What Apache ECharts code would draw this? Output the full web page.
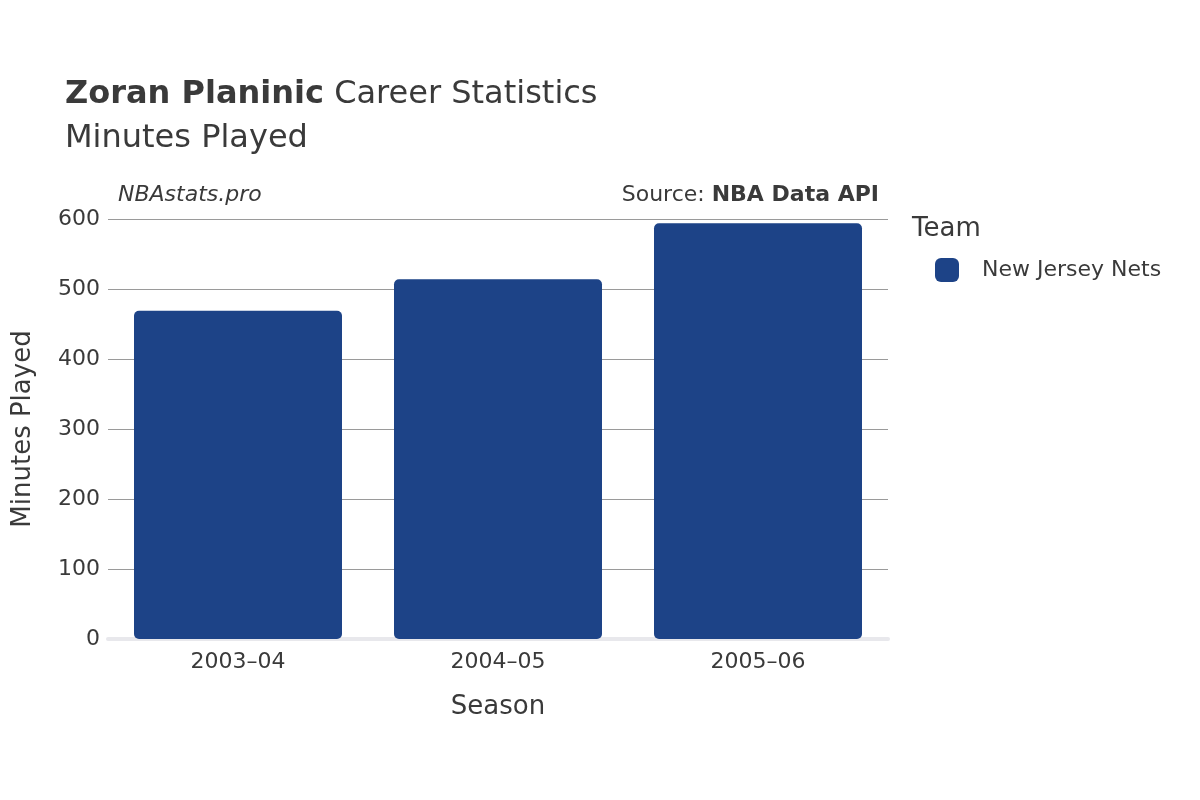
<!DOCTYPE html>
<html>
<head>
<meta charset="UTF-8">
<script src="https://cdn.jsdelivr.net/npm/echarts@6/dist/echarts.min.js"></script>
<style>html,body{margin:0}#c{width:1200px;height:800px}</style>
</head>
<body>
<div id="c"></div>
<script>
var seasons = ['2003–04', '2004–05', '2005–06'];
var minutes = [469, 514, 594];
var teamName = 'New Jersey Nets';

var chart = echarts.init(document.getElementById('c'));
var font = 'DejaVu Sans';
chart.setOption({
    textStyle: { fontFamily: font },
    title: [{
        left: 60, top: 68,
        text: '{b|Zoran Planinic} Career Statistics\nMinutes Played',
        textStyle: {
            fontSize: 32, fontWeight: 'normal', color: '#3a3a3a', lineHeight: 44, fontFamily: font,
            rich: { b: { fontSize: 32, fontWeight: 'bold', color: '#3a3a3a', fontFamily: font } }
        }
    }, {
        left: 113, top: 179, text: 'NBAstats.pro',
        textStyle: { fontSize: 22, fontStyle: 'italic', fontWeight: 'normal', color: '#3a3a3a' }
    }, {
        right: 316, top: 179, text: 'Source: {b|NBA Data API}',
        textStyle: { fontSize: 22, fontWeight: 'normal', color: '#3a3a3a',
            rich: { b: { fontSize: 22, fontWeight: 'bold', color: '#3a3a3a' } } }
    }, {
        left: 907, top: 211, text: 'Team',
        textStyle: { fontSize: 26, fontWeight: 'normal', color: '#3a3a3a' }
    }],
    legend: {
        left: 930, top: 253, itemWidth: 24, itemHeight: 24, itemGap: 10,
        icon: 'roundRect',
        textStyle: { fontSize: 22, color: '#3a3a3a', padding: [0, 0, 0, 18] },
        data: [teamName]
    },
    grid: { left: 108, right: 312, top: 219, bottom: 161 },
    xAxis: {
        type: 'category', data: seasons,
        name: 'Season', nameLocation: 'middle', nameGap: 55,
        nameTextStyle: { fontSize: 26, color: '#3a3a3a' },
        axisLine: { lineStyle: { color: '#e8e8ec', width: 4 } },
        axisTick: { show: false },
        axisLabel: { fontSize: 22, color: '#3a3a3a', margin: 12 }
    },
    yAxis: {
        type: 'value', min: 0, max: 600, interval: 100,
        name: 'Minutes Played', nameLocation: 'middle', nameGap: 72,
        nameTextStyle: { fontSize: 26, color: '#3a3a3a' },
        axisLabel: { fontSize: 22, color: '#3a3a3a', margin: 8 },
        splitLine: { lineStyle: { color: '#9a9a9a' } }
    },
    series: [{
        name: teamName, type: 'bar', data: minutes,
        barCategoryGap: '20%',
        itemStyle: { color: '#1d4387', borderRadius: 5 }
    }]
});
</script>
</body>
</html>
